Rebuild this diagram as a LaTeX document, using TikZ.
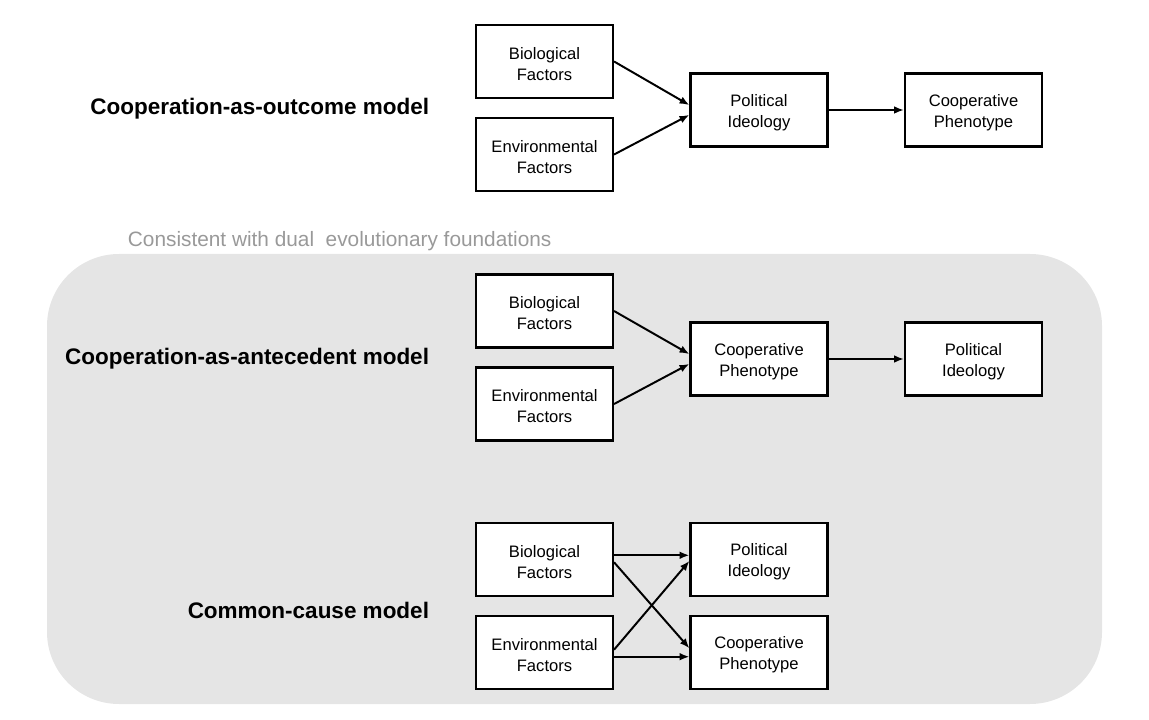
\documentclass[tikz,border=0pt]{standalone}
\usepackage{fontspec}
\setmainfont{Liberation Sans}
\usetikzlibrary{arrows.meta}

\newcommand{\twolines}[2]{\rule{0pt}{12pt}#1\\#2}

\begin{document}
\begin{tikzpicture}[x=0.025cm, y=-0.025cm]

\tikzset{factor/.style = {shape=rectangle,draw,line width=1.5pt,fill=white,minimum width=3.425cm,minimum height=1.825cm,align=center,font=\fontsize{11.8}{15}\selectfont}}
\tikzset{edge/.style = {->,> = {Latex[length=7pt,width=5.5pt]},line width=1.4pt}}
\tikzset{model/.style = {anchor=east,font=\fontsize{16}{19}\selectfont\bfseries}}
\useasboundingbox (0,0) rectangle (1149,720);
%background
\fill[black!10, rounded corners=1.8cm] (47,254) rectangle (1102,704);
\node[anchor=west, text=black!40, font=\fontsize{14.8}{17}\selectfont] (dual) at (123,241) {Consistent with dual\ \ evolutionary foundations};
%model names
\node[model] (outcome) at (434,109) {Cooperation-as-outcome model};
\node[model] (antecedent) at (434,359) {Cooperation-as-antecedent model};
\node[model] (common) at (434,610) {Common-cause model};
%outcome model
\node[factor] (bio1) at (544.5,61.5) {\twolines{Biological}{Factors}};
\node[factor] (env1) at (544.5,154.5) {\twolines{Environmental}{Factors}};
\node[factor] (pol1) at (759,110) {\twolines{Political}{Ideology}};
\node[factor] (coop1) at (973.5,110) {\twolines{Cooperative}{Phenotype}};
\draw [edge] (bio1.east) -- (pol1.176);
\draw [edge] (env1.east) -- (pol1.184);
\draw [edge] (pol1) -- (coop1);
%antecedent model
\node[factor] (bio2) at (544.5,311) {\twolines{Biological}{Factors}};
\node[factor] (env2) at (544.5,404) {\twolines{Environmental}{Factors}};
\node[factor] (coop2) at (759,359) {\twolines{Cooperative}{Phenotype}};
\node[factor] (pol2) at (973.5,359) {\twolines{Political}{Ideology}};
\draw [edge] (bio2.east) -- (coop2.176);
\draw [edge] (env2.east) -- (coop2.184);
\draw [edge] (coop2) -- (pol2);
%common cause model
\node[factor] (bio3) at (544.5,559.5) {\twolines{Biological}{Factors}};
\node[factor] (env3) at (544.5,652.5) {\twolines{Environmental}{Factors}};
\node[factor] (pol3) at (759,559.5) {\twolines{Political}{Ideology}};
\node[factor] (coop3) at (759,652.5) {\twolines{Cooperative}{Phenotype}};
\draw [edge] ([yshift=3pt]bio3.east) -- ([yshift=3pt]pol3.west);
\draw [edge] ([yshift=-2pt]bio3.east) -- ([yshift=3pt]coop3.west);
\draw [edge] ([yshift=2pt]env3.east) -- ([yshift=-1pt]pol3.west);
\draw [edge] ([yshift=-3pt]env3.east) -- ([yshift=-3pt]coop3.west);

\end{tikzpicture}
\end{document}
